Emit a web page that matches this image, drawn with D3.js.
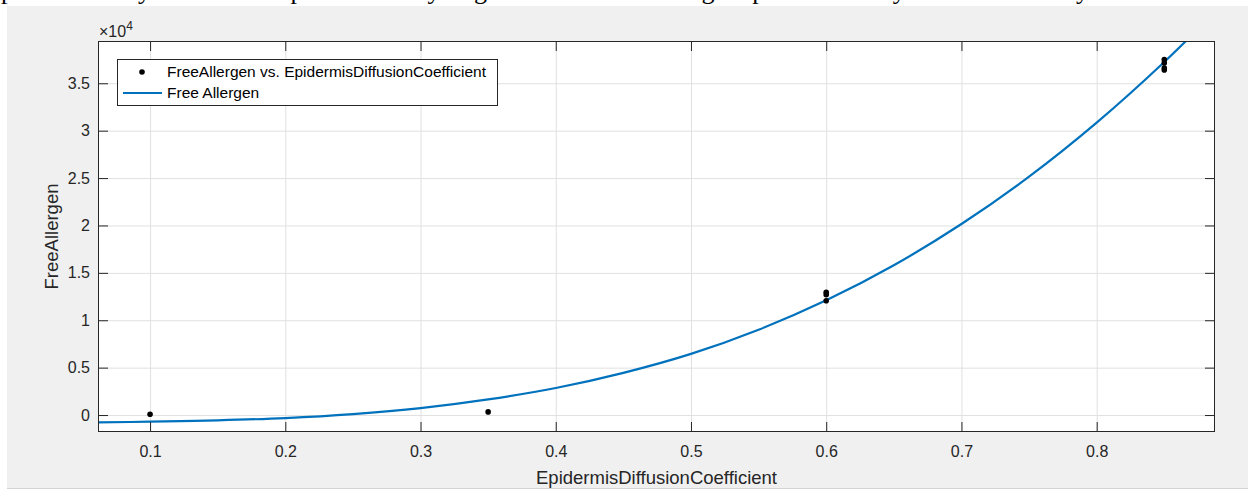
<!DOCTYPE html>
<html>
<head>
<meta charset="utf-8">
<script src="https://cdn.jsdelivr.net/npm/d3@7"></script>
<style>
  body { margin: 0; background: #fff; }
  svg { display: block; }
  .axis path { display: none; }
  .axis line { stroke: #262626; }
  .axis text { fill: #262626; font-family: "Liberation Sans", Arial, sans-serif; font-size: 16px; }
  .grid path { display: none; }
  .grid line { stroke: #e0e0e0; }
</style>
</head>
<body>
<div class="fig"></div>
<script>
// measured samples (x = EpidermisDiffusionCoefficient, y = FreeAllergen)
var sampleX = [0.1, 0.35, 0.6, 0.6, 0.6, 0.85, 0.85, 0.85, 0.85];
var sampleY = [80, 330, 12950, 12700, 12050, 37500, 37150, 36600, 36400];

// fitted "Free Allergen" curve
var fitX = [0.0615, 0.1, 0.15, 0.2, 0.25, 0.3, 0.35, 0.4, 0.45, 0.5, 0.55, 0.6, 0.65, 0.7, 0.75, 0.8, 0.85, 0.88];
var fitY = [-780, -700, -560, -320, 100, 730, 1650, 2850, 4450, 6450, 9000, 12100, 15800, 20150, 25150, 30850, 37250, 41450];

var xTicks = [0.1, 0.2, 0.3, 0.4, 0.5, 0.6, 0.7, 0.8];
var yTicks = [0, 5000, 10000, 15000, 20000, 25000, 30000, 35000];

var legendLabels = ["FreeAllergen vs. EpidermisDiffusionCoefficient", "Free Allergen"];

var W = 1248, H = 491;
var box = {left: 98, right: 1215, top: 41, bottom: 432};

var x = d3.scaleLinear()
    .domain([0.0615, 0.8875])
    .range([box.left, box.right]);

var y = d3.scaleLinear()
    .domain([-1790, 39460])
    .range([box.bottom, box.top]);

var svg = d3.select(".fig")
    .append("svg")
    .attr("width", W)
    .attr("height", H);

// clipped sentence from the document above the figure (only descenders show)
svg.append("text")
    .attr("x", 1)
    .attr("y", -1.5)
    .attr("font-family", "Liberation Serif, Times New Roman, serif")
    .attr("font-size", 26)
    .attr("textLength", 1152)
    .attr("fill", "#000")
    .text("permeability leads to experimentally higher levels of allergen processed by the immune system.");

// figure background
svg.append("rect")
    .attr("x", 7)
    .attr("y", 6)
    .attr("width", W - 7)
    .attr("height", 482)
    .attr("fill", "#f0f0f0");

svg.append("line")
    .attr("x1", 7).attr("x2", W)
    .attr("y1", 488.5).attr("y2", 488.5)
    .attr("stroke", "#d4d4d4");

// axes area
svg.append("rect")
    .attr("x", box.left)
    .attr("y", box.top)
    .attr("width", box.right - box.left)
    .attr("height", box.bottom - box.top)
    .attr("fill", "#fff");

// grid
svg.append("g")
    .attr("class", "grid")
    .attr("transform", "translate(0," + box.bottom + ")")
    .call(d3.axisBottom(x).tickValues(xTicks).tickSize(-(box.bottom - box.top)).tickFormat(""));

svg.append("g")
    .attr("class", "grid")
    .attr("transform", "translate(" + box.left + ",0)")
    .call(d3.axisLeft(y).tickValues(yTicks).tickSize(-(box.right - box.left)).tickFormat(""));

// curve + samples
svg.append("clipPath")
    .attr("id", "clip")
    .append("rect")
    .attr("x", box.left)
    .attr("y", box.top)
    .attr("width", box.right - box.left)
    .attr("height", box.bottom - box.top);

var line = d3.line()
    .x(function(d, i) { return x(fitX[i]); })
    .y(function(d) { return y(d); })
    .curve(d3.curveCatmullRom.alpha(0.5));

svg.append("path")
    .datum(fitY)
    .attr("clip-path", "url(#clip)")
    .attr("fill", "none")
    .attr("stroke", "#0072bd")
    .attr("stroke-width", 2.2)
    .attr("d", line);

svg.append("g")
    .selectAll("circle")
    .data(sampleY)
    .enter().append("circle")
    .attr("cx", function(d, i) { return x(sampleX[i]); })
    .attr("cy", function(d) { return y(d); })
    .attr("r", 2.8)
    .attr("fill", "#000");

// axes with inward ticks
svg.append("g")
    .attr("class", "axis")
    .attr("transform", "translate(0," + box.bottom + ")")
    .call(d3.axisBottom(x).tickValues(xTicks).tickSize(-10).tickPadding(14).tickFormat(d3.format(".1f")));

svg.append("g")
    .attr("class", "axis")
    .attr("transform", "translate(0," + box.top + ")")
    .call(d3.axisTop(x).tickValues(xTicks).tickSize(-10).tickFormat(""));

svg.append("g")
    .attr("class", "axis")
    .attr("transform", "translate(" + box.left + ",0)")
    .call(d3.axisLeft(y).tickValues(yTicks).tickSize(-10).tickPadding(8)
        .tickFormat(function(d) { return d3.format("")(d / 10000); }));

svg.append("g")
    .attr("class", "axis")
    .attr("transform", "translate(" + box.right + ",0)")
    .call(d3.axisRight(y).tickValues(yTicks).tickSize(-10).tickFormat(""));

svg.append("rect")
    .attr("x", box.left + 0.5)
    .attr("y", box.top + 0.5)
    .attr("width", box.right - box.left - 1)
    .attr("height", box.bottom - box.top - 1)
    .attr("fill", "none")
    .attr("stroke", "#262626");

// exponent
var expo = svg.append("text")
    .attr("x", 99)
    .attr("y", 37)
    .attr("fill", "#262626")
    .attr("font-family", "Liberation Sans, Arial, sans-serif")
    .attr("font-size", 16);
expo.append("tspan").text("\u00d710");
expo.append("tspan").attr("dy", -7).attr("font-size", 12).text("4");

// axis labels
svg.append("text")
    .attr("x", (box.left + box.right) / 2)
    .attr("y", 484)
    .attr("text-anchor", "middle")
    .attr("fill", "#262626")
    .attr("font-family", "Liberation Sans, Arial, sans-serif")
    .attr("font-size", 18.5)
    .text("EpidermisDiffusionCoefficient");

svg.append("text")
    .attr("transform", "translate(58," + (box.top + box.bottom) / 2 + ") rotate(-90)")
    .attr("text-anchor", "middle")
    .attr("fill", "#262626")
    .attr("font-family", "Liberation Sans, Arial, sans-serif")
    .attr("font-size", 18.5)
    .text("FreeAllergen");

// legend
var legend = svg.append("g")
    .attr("font-family", "Liberation Sans, Arial, sans-serif")
    .attr("font-size", 15.5);

legend.append("rect")
    .attr("x", 117.5)
    .attr("y", 59.5)
    .attr("width", 380)
    .attr("height", 46)
    .attr("fill", "#fff")
    .attr("stroke", "#262626");

legend.append("circle")
    .attr("cx", 142)
    .attr("cy", 72)
    .attr("r", 2.8)
    .attr("fill", "#000");

legend.append("line")
    .attr("x1", 123).attr("x2", 162)
    .attr("y1", 93).attr("y2", 93)
    .attr("stroke", "#0072bd")
    .attr("stroke-width", 2.2);

legend.selectAll(".lab")
    .data(legendLabels)
    .enter().append("text")
    .attr("class", "lab")
    .attr("x", 167)
    .attr("y", function(d, i) { return 72 + i * 21; })
    .attr("dy", "0.35em")
    .attr("fill", "#000")
    .text(function(d) { return d; });
</script>
</body>
</html>
